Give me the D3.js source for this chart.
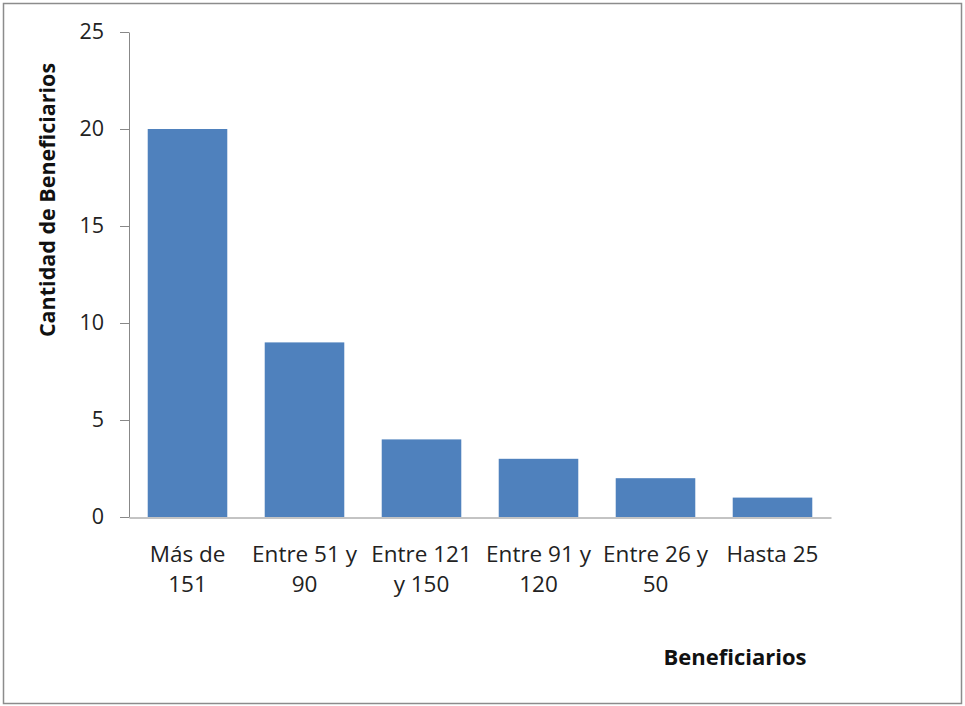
<!DOCTYPE html>
<html><head><meta charset="utf-8">
<script src="https://cdn.jsdelivr.net/npm/d3@7"></script>
<style>body{margin:0;background:#fff}svg{display:block}</style>
</head><body>
<script>
const categories = ["Más de 151","Entre 51 y 90","Entre 121 y 150","Entre 91 y 120","Entre 26 y 50","Hasta 25"];
const categoryLines = [["Más de","151"],["Entre 51 y","90"],["Entre 121","y 150"],["Entre 91 y","120"],["Entre 26 y","50"],["Hasta 25"]];
const values = [20,9,4,3,2,1];
const yTicks = [0,5,10,15,20,25];
const yTitle = "Cantidad de Beneficiarios";
const xTitle = "Beneficiarios";

const W = 965, H = 706;
const font = "'Open Sans', Lato, sans-serif";
const svg = d3.select("body").append("svg").attr("width",W).attr("height",H);
svg.append("rect").attr("x",3.5).attr("y",3.5).attr("width",958).attr("height",700)
  .attr("fill","#fff").attr("stroke","#8c8c8c").attr("stroke-width",1.5);

const x = d3.scaleBand().domain(categories).range([129,831]).paddingInner(0.32).paddingOuter(0.16);
const y = d3.scaleLinear().domain([0,25]).range([517,32]);

svg.selectAll("rect.bar").data(values).join("rect").attr("class","bar")
  .attr("x",(d,i)=>x(categories[i])).attr("width",x.bandwidth())
  .attr("y",d=>y(d)).attr("height",d=>y(0)-y(d)).attr("fill","#4F81BD");

const ya = svg.append("g").attr("transform","translate(129,0)")
  .call(d3.axisLeft(y).tickValues(yTicks).tickSize(9).tickPadding(16).tickSizeOuter(0));
ya.select(".domain").attr("stroke","#888");
ya.selectAll(".tick line").attr("stroke","#888");
ya.selectAll(".tick text").attr("font-family",font).attr("font-size",21.5).attr("fill","#222");

const xa = svg.append("g").attr("transform","translate(0,517.5)")
  .call(d3.axisBottom(x).tickSize(0).tickSizeOuter(0).tickFormat(""));
xa.select(".domain").attr("stroke","#888");

const lab = svg.append("g");
categories.forEach((c,i)=>{
  const t = lab.append("text").attr("x",x(c)+x.bandwidth()/2).attr("y",562)
    .attr("text-anchor","middle").attr("font-family",font).attr("font-size",22.5).attr("fill","#222");
  categoryLines[i].forEach((l,j)=>t.append("tspan").attr("x",x(c)+x.bandwidth()/2).attr("dy",j?30:0).text(l));
});

svg.append("text").attr("transform","translate(55,200) rotate(-90)").attr("text-anchor","middle")
  .attr("font-family",font).attr("font-weight","bold").attr("font-size",21.5).attr("fill","#111").text(yTitle);
svg.append("text").attr("x",735).attr("y",665).attr("text-anchor","middle")
  .attr("font-family",font).attr("font-weight","bold").attr("font-size",22).attr("fill","#111").text(xTitle);
</script>
</body></html>
